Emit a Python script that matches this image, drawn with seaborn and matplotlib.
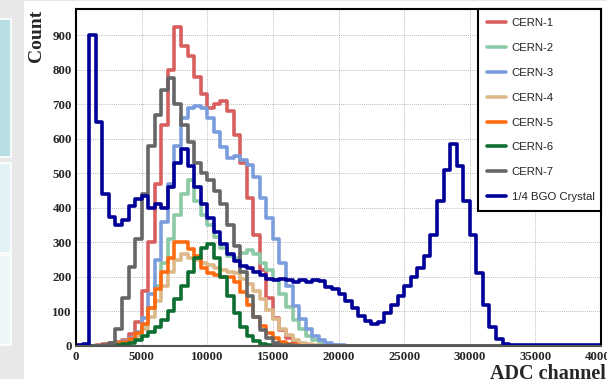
import numpy as np
import pandas as pd
import matplotlib
matplotlib.use("Agg")
import matplotlib.pyplot as plt
import seaborn as sns
from matplotlib.lines import Line2D
from matplotlib.patches import Rectangle
from matplotlib.ticker import MultipleLocator

# ADC spectra, 500-channel bins.
# Each list starts at the channel given by the matching *_start value.
bin_width = 500
adc_max = 40000

series_names = ['CERN-1', 'CERN-2', 'CERN-3', 'CERN-4', 'CERN-5', 'CERN-6', 'CERN-7', '1/4 BGO Crystal']
series_colors = ['#d95f5f', '#8cc9a5', '#7c9ddb', '#ddb98a', '#ff6a10', '#0e6e32', '#666666', '#000099']

cern1_start = 1500
cern1 = [3, 6, 8, 12, 18, 35, 70, 160, 300, 470, 640, 800, 925, 870, 840, 780, 730, 690, 700, 710,
         680, 610, 530, 430, 320, 220, 140, 80, 45, 22, 10, 5, 2]

cern2_start = 2000
cern2 = [3, 5, 8, 12, 20, 32, 60, 110, 175, 240, 310, 380, 440, 480, 420, 380, 350, 315, 285, 262,
         255, 270, 278, 265, 240, 220, 190, 150, 112, 75, 48, 28, 17, 9, 4, 2]

cern3_start = 2000
cern3 = [3, 6, 10, 15, 22, 40, 80, 150, 250, 360, 470, 580, 660, 690, 695, 690, 660, 620, 575, 545,
         550, 540, 525, 490, 430, 370, 310, 240, 175, 115, 78, 48, 28, 18, 9, 4, 2]

cern4_start = 2000
cern4 = [2, 4, 7, 10, 16, 28, 50, 85, 130, 175, 215, 250, 265, 255, 250, 240, 235, 225, 220, 215,
         210, 195, 180, 160, 135, 105, 78, 50, 32, 18, 10, 5, 2]

cern5_start = 2000
cern5 = [3, 5, 8, 12, 20, 38, 65, 110, 165, 215, 255, 300, 300, 280, 260, 225, 212, 205, 200, 200,
         185, 155, 120, 85, 58, 38, 22, 12, 6, 3]

cern6_start = 3000
cern6 = [3, 6, 10, 18, 28, 40, 55, 75, 100, 135, 175, 215, 255, 285, 295, 255, 200, 145, 95, 55,
         30, 15, 7, 3, 1]

cern7_start = 2000
cern7 = [3, 10, 50, 140, 230, 310, 440, 580, 670, 740, 775, 700, 640, 590, 530, 500, 480, 450, 410, 350,
         290, 215, 145, 85, 45, 22, 10, 4, 2]

bgo_start = 0
bgo = [3, 5, 900, 650, 440, 375, 350, 365, 405, 425, 435, 400, 410, 400, 460, 530, 570, 520, 460, 410,
       370, 330, 295, 265, 245, 232, 225, 213, 205, 193, 190, 193, 190, 185, 190, 185, 192, 188, 172, 165,
       150, 130, 110, 88, 72, 63, 70, 95, 120, 145, 175, 200, 225, 260, 320, 420, 510, 585, 520, 420,
       320, 210, 120, 55, 20, 6, 2, 2, 2, 2, 2, 2, 2, 2, 2, 2, 2, 2, 2, 2]

series_starts = [cern1_start, cern2_start, cern3_start, cern4_start, cern5_start, cern6_start, cern7_start, bgo_start]
series_values = [cern1, cern2, cern3, cern4, cern5, cern6, cern7, bgo]

edges = np.arange(0, adc_max + bin_width, bin_width)
centers = edges[:-1] + bin_width / 2

sns.set_style("white")
plt.rcParams['font.family'] = ['Liberation Sans', 'DejaVu Sans']

serif_fam = ['Liberation Serif', 'DejaVu Serif']

fig = plt.figure(figsize=(6.07, 3.79), dpi=100, facecolor='#e8e8e8')

# page-like background: white panel and pale side boxes
W, H = 607, 379
fig.add_artist(Rectangle((24 / W, 0), 1, 378 / H, transform=fig.transFigure,
                         facecolor='white', edgecolor='none', zorder=-2))
for (y0, y1, c) in [(19, 157, '#b8dfe3'), (163, 253, '#e3f2f4'), (255, 345, '#eef6f8')]:
    fig.add_artist(Rectangle((-2 / W, 1 - y1 / H), 13 / W, (y1 - y0) / H, transform=fig.transFigure,
                             facecolor=c, edgecolor='white', linewidth=1.2, zorder=-1))

ax = fig.add_axes([76 / W, 1 - 346 / H, 525 / W, (346 - 9.3) / H])
ax.set_facecolor('white')

for name, color, start, vals in zip(series_names, series_colors, series_starts, series_values):
    counts = np.zeros(len(centers))
    i0 = start // bin_width
    counts[i0:i0 + len(vals)] = vals
    df = pd.DataFrame({'adc': centers, 'count': counts})
    sns.histplot(data=df, x='adc', weights='count', bins=list(edges), element='step', fill=False,
                 color=color, linewidth=2.6, ax=ax)

ax.set_xlim(0, adc_max)
ax.set_ylim(0, 975)
ax.set_xlabel('')
ax.set_ylabel('')

ax.xaxis.set_major_locator(MultipleLocator(5000))
ax.xaxis.set_minor_locator(MultipleLocator(1000))
ax.yaxis.set_major_locator(MultipleLocator(100))
ax.yaxis.set_minor_locator(MultipleLocator(20))
ax.tick_params(which='both', direction='in', top=False, right=False, color='black', width=1)
ax.tick_params(which='major', length=7, labelsize=9.3)
ax.tick_params(which='minor', length=3.5)
ax.tick_params(axis='y', which='major', pad=3)
ax.tick_params(axis='x', which='major', pad=3.6)
for lbl in ax.get_xticklabels() + ax.get_yticklabels():
    lbl.set_fontfamily(serif_fam)
    lbl.set_fontweight('bold')

ax.grid(True, which='major', linestyle=(0, (1, 1.5)), color='#a5a5a5', linewidth=0.6)
ax.set_axisbelow(True)
for sp in ax.spines.values():
    sp.set_color('black')
    sp.set_linewidth(1.5)
ax.spines['bottom'].set_color('#555555')

handles = [Line2D([0], [0], color=c, linewidth=2.6) for c in series_colors]
leg = ax.legend(handles, series_names, loc='upper left',
                bbox_to_anchor=((478 - 76) / 525, 0.4, 123 / 525, 0.6), mode='expand',
                borderaxespad=0, fontsize=8.2, labelspacing=1.3, borderpad=0.8,
                handlelength=1.7, handletextpad=0.45, fancybox=False, framealpha=1,
                edgecolor='black', labelcolor='#222222')
leg.get_frame().set_linewidth(1.5)

fig.text(36 / W, 1 - 10 / H, 'Count', rotation=90, ha='center', va='top', fontsize=14,
         family=serif_fam, weight='bold')
fig.text(606 / W, 0.2 / H, 'ADC channel', ha='right', va='baseline', fontsize=14.5,
         family=serif_fam, weight='bold')

fig.savefig('out.png', dpi=100, facecolor=fig.get_facecolor())
